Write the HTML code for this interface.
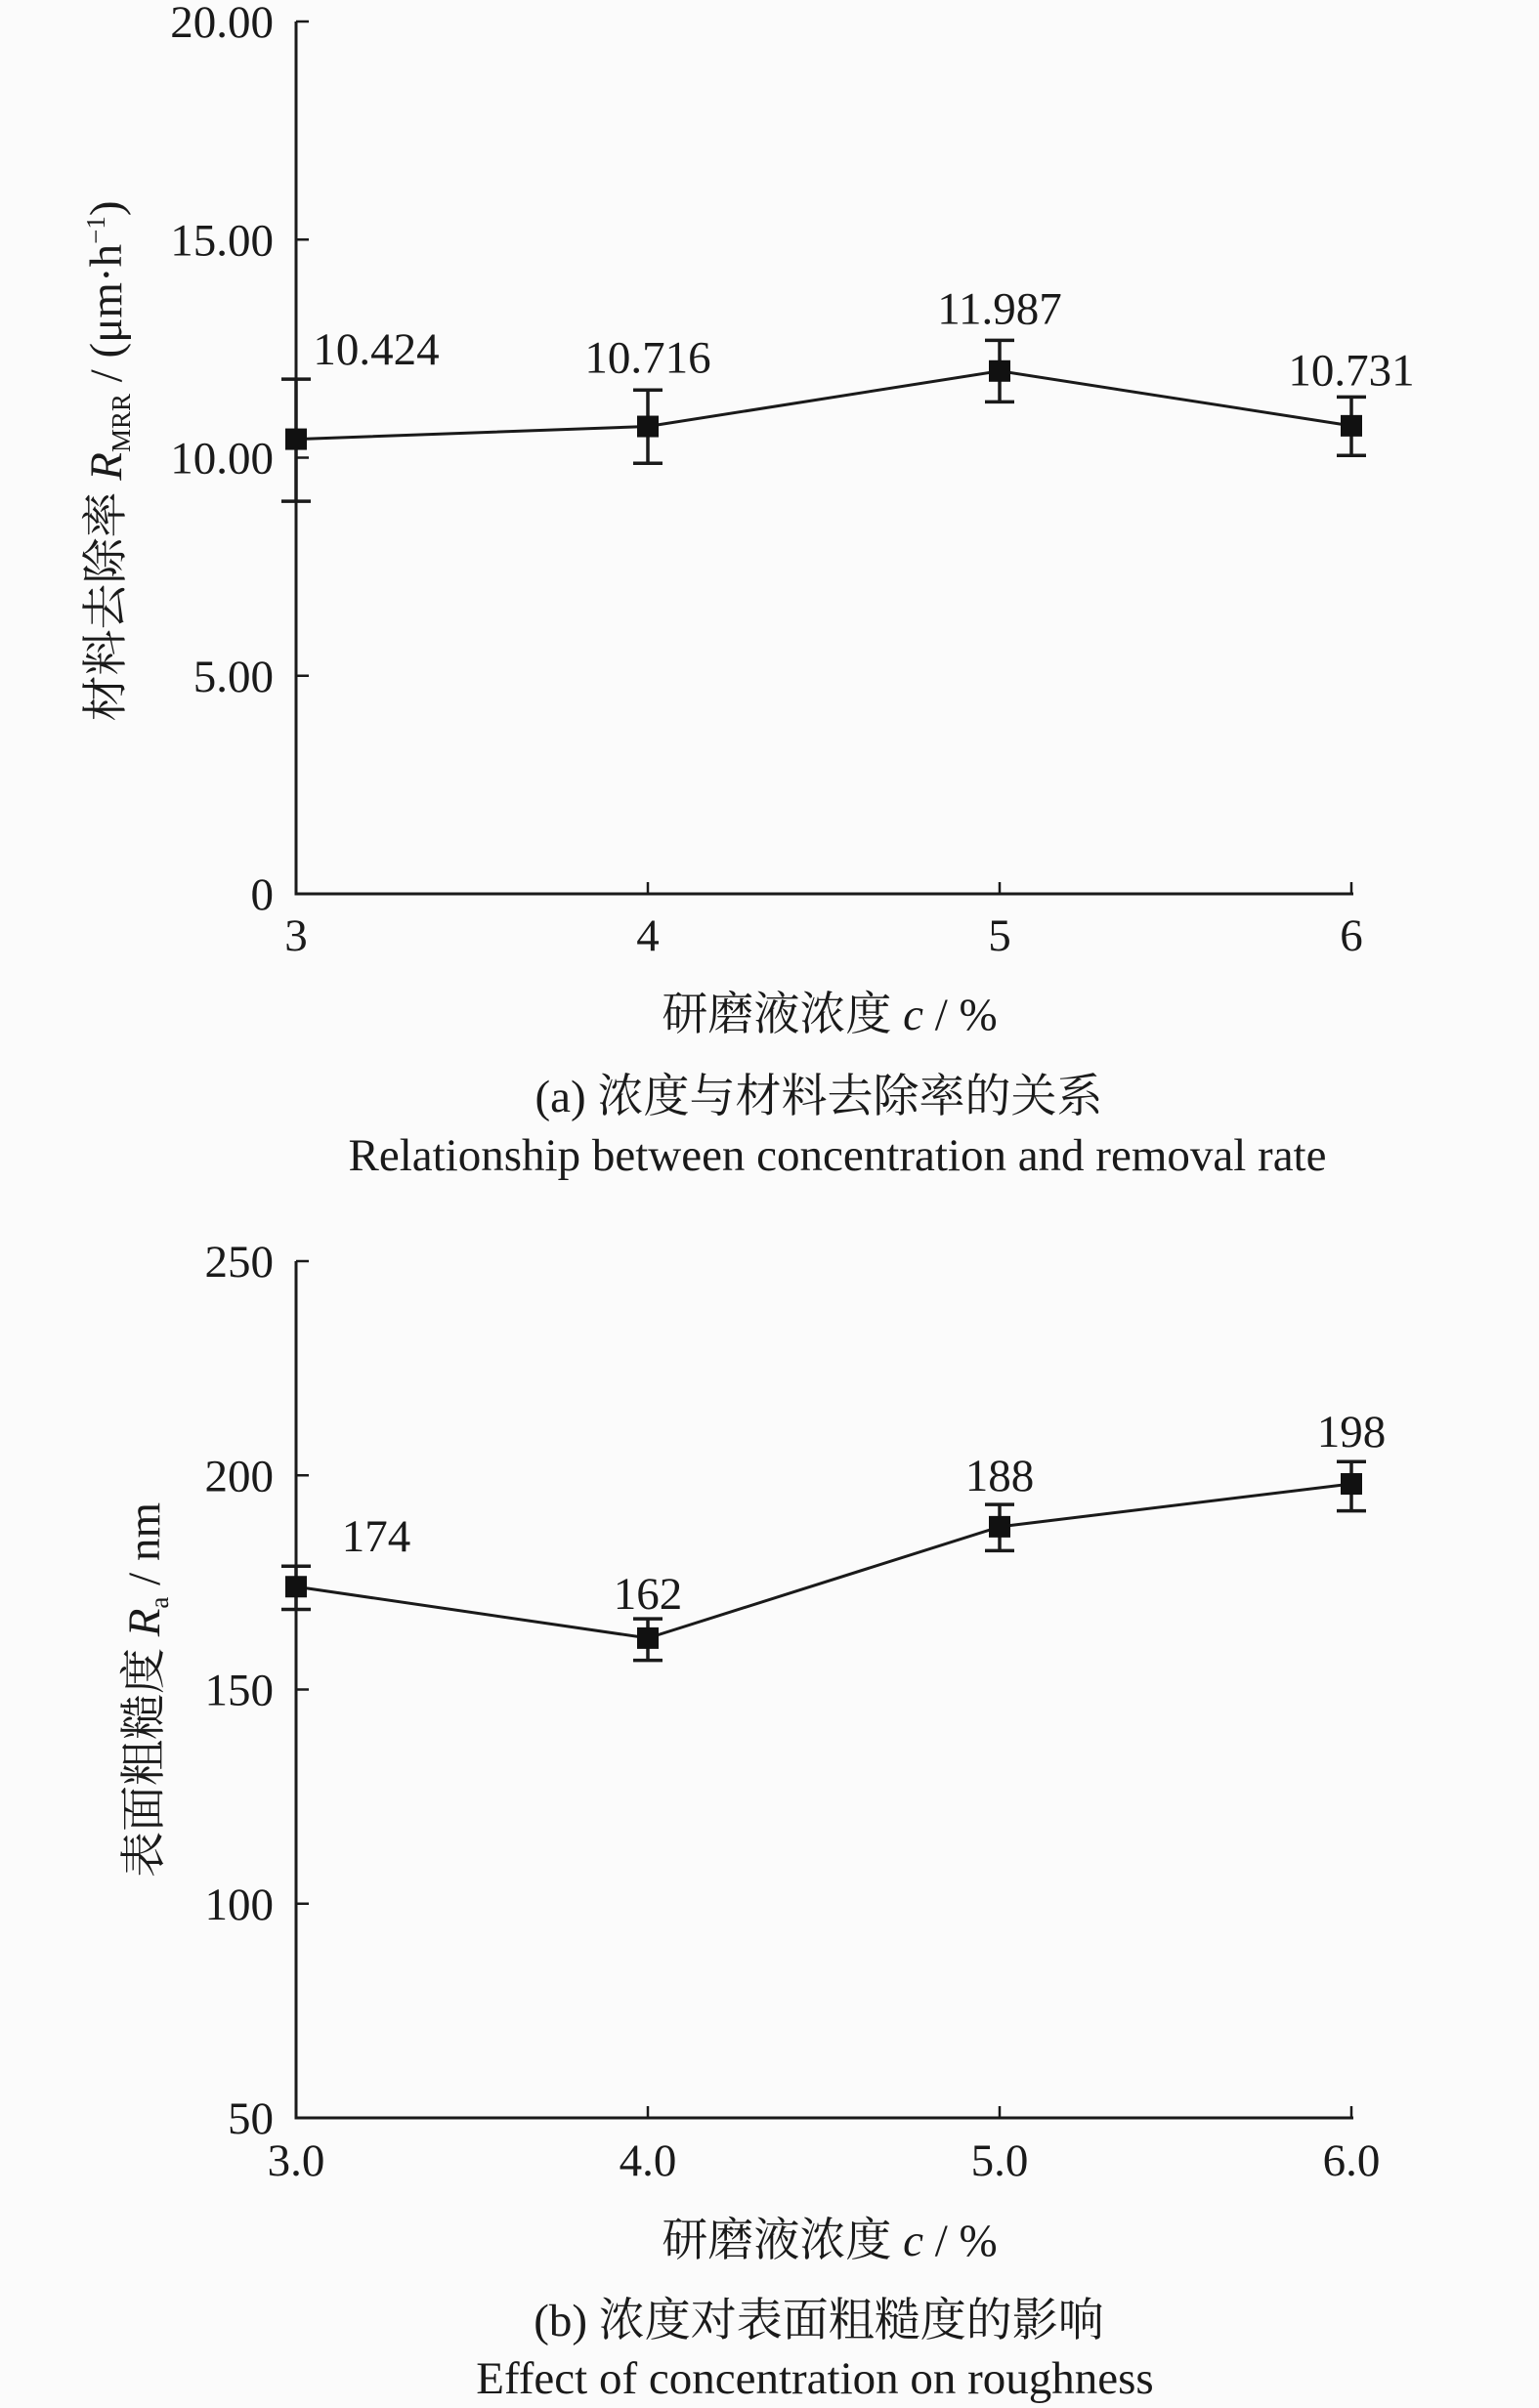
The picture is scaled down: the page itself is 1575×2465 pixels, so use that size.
<!DOCTYPE html>
<html><head><meta charset="utf-8"><style>
html,body{margin:0;padding:0;background:#fbfbfb;}
svg{display:block;font-family:"Liberation Serif","Noto Serif CJK SC",serif;}
</style></head><body>
<svg id="fig" width="1575" height="2465" viewBox="0 0 1575 2465"></svg>
<script>
const xCats=[3,4,5,6];
const xTickLabelsA=["3","4","5","6"];
const xTickLabelsB=["3.0","4.0","5.0","6.0"];
const mrrValues=[10.424,10.716,11.987,10.731];
const mrrUpper=[11.8,11.55,12.69,11.39];
const mrrLower=[9.0,9.87,11.28,10.05];
const mrrLabels=["10.424","10.716","11.987","10.731"];
const yTicksA=[0,5,10,15,20];
const yTickLabelsA=["0","5.00","10.00","15.00","20.00"];
const raValues=[174,162,188,198];
const raUpper=[178.8,166.5,193.2,203.2];
const raLower=[168.7,156.8,182.4,191.7];
const raLabels=["174","162","188","198"];
const yTicksB=[50,100,150,200,250];
const yTickLabelsB=["50","100","150","200","250"];

const FS=47;
const NS="http://www.w3.org/2000/svg";
const svg=document.getElementById('fig');
function mk(tag,attrs,parent){const e=document.createElementNS(NS,tag);for(const k in attrs)e.setAttribute(k,attrs[k]);(parent||svg).appendChild(e);return e;}
function txt(s,x,y,size,anchor,parent){const t=mk('text',{x:x,y:y,'font-size':size,'text-anchor':anchor||'middle',fill:'#1a1a1a'},parent);t.textContent=s;return t;}

function chart(cfg){
  const g=mk('g',{});
  
  
  const xs=v=>303+(v-3)*360;
  const ys=v=>cfg.y0+(v-cfg.ymin)/(cfg.ymax-cfg.ymin)*(cfg.y1-cfg.y0);
  const ax=mk('path',{d:`M303 ${ys(cfg.ymax)} L303 ${ys(cfg.ymin)} L1385 ${ys(cfg.ymin)}`,fill:'none',stroke:'#1a1a1a','stroke-width':3},g);
  
  
  cfg.yTicks.forEach((v,i)=>{
    const y=ys(v);
    mk('line',{x1:303,x2:316,y1:y,y2:y,stroke:'#1a1a1a','stroke-width':2.5},g);
    const t=txt(cfg.yLabels[i],280,y+16,FS,'end',g);
    
    
  });
  xCats.forEach((c,i)=>{
    const x=xs(c);
    mk('line',{x1:x,x2:x,y1:ys(cfg.ymin),y2:ys(cfg.ymin)-12,stroke:'#1a1a1a','stroke-width':2.5},g);
    const t=txt(cfg.xLabels[i],x,cfg.xTickY,FS,'middle',g);
    
    
  });
  const pts=xCats.map((c,i)=>xs(c)+','+ys(cfg.vals[i])).join(' ');
  const line=mk('polyline',{points:pts,fill:'none',stroke:'#1a1a1a','stroke-width':3},g);
  
  
  xCats.forEach((c,i)=>{
    const x=xs(c),yt=ys(cfg.up[i]),yb=ys(cfg.lo[i]),y=ys(cfg.vals[i]);
    const eb=mk('path',{d:`M${x} ${yt} L${x} ${yb} M${x-15} ${yt} L${x+15} ${yt} M${x-15} ${yb} L${x+15} ${yb}`,stroke:'#1a1a1a','stroke-width':3.5,fill:'none'},g);
    
    
    const m=mk('rect',{x:x-11,y:y-11,width:22,height:22,fill:'#111'},g);
    
    
    const lab=txt(cfg.pLabels[i],i===0?x+82:x,yt-cfg.labOff[i],FS,'middle',g);
    
    
  });
  return g;
}

chart({name:'chart-a',y0:915,y1:22,ymin:0,ymax:20,yTicks:yTicksA,yLabels:yTickLabelsA,xLabels:xTickLabelsA,xTickY:973,vals:mrrValues,up:mrrUpper,lo:mrrLower,pLabels:mrrLabels,labOff:[15,18,17,12]});
chart({name:'chart-b',y0:2168,y1:1291,ymin:50,ymax:250,yTicks:yTicksB,yLabels:yTickLabelsB,xLabels:xTickLabelsB,xTickY:2227,vals:raValues,up:raUpper,lo:raLower,pLabels:raLabels,labOff:[15,10,14,15]});

let t;
t=mk('text',{transform:'translate(124,472) rotate(-90)','font-size':FS,'text-anchor':'middle',fill:'#1a1a1a'});
t.innerHTML='材料去除率 <tspan font-style="italic">R</tspan><tspan font-size="27" dy="9">MRR</tspan><tspan dy="-9"> / (μm·h</tspan><tspan font-size="27" dy="-17">−1</tspan><tspan dy="17">)</tspan>';


t=mk('text',{transform:'translate(163,1730) rotate(-90)','font-size':FS,'text-anchor':'middle',fill:'#1a1a1a'});
t.innerHTML='表面粗糙度 <tspan font-style="italic">R</tspan><tspan font-size="27" dy="9">a</tspan><tspan dy="-9"> / nm</tspan>';


t=mk('text',{x:849,y:1054,'font-size':FS,'text-anchor':'middle',fill:'#1a1a1a'});
t.innerHTML='研磨液浓度 <tspan font-style="italic">c</tspan> / %';


t=mk('text',{x:849,y:2309,'font-size':FS,'text-anchor':'middle',fill:'#1a1a1a'});
t.innerHTML='研磨液浓度 <tspan font-style="italic">c</tspan> / %';


t=txt('(a) 浓度与材料去除率的关系',838,1138,FS);


t=txt('Relationship between concentration and removal rate',857,1198,FS);


t=txt('(b) 浓度对表面粗糙度的影响',838,2391,FS);


t=txt('Effect of concentration on roughness',834,2450,FS);


</script>
</body></html>
